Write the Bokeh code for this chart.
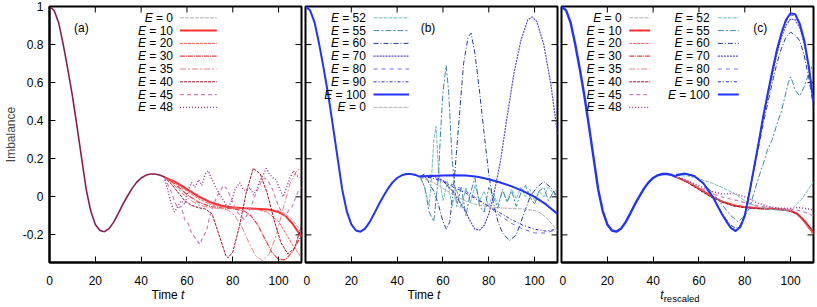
from bokeh.plotting import figure
from bokeh.layouts import row, column
from bokeh.models import Range1d, FixedTicker, PrintfTickFormatter, Label, Div, Spacer
from bokeh.embed import file_html
from bokeh.resources import INLINE

# ---------------- data ----------------
x_ticks = [0, 20, 40, 60, 80, 100]
y_ticks = [-0.2, 0, 0.2, 0.4, 0.6, 0.8, 1.0]

# common early-time part (identical for all E)
t_common = [0, 2, 4, 6, 8, 10, 12, 14, 16, 18, 20, 22, 24, 26, 28, 30, 32, 34, 36, 38, 40, 42, 44, 46, 48, 50]
v_common = [1.0, 0.98, 0.915, 0.80, 0.67, 0.53, 0.37, 0.205, 0.04, -0.075, -0.145, -0.177, -0.183, -0.167,
            -0.133, -0.088, -0.04, 0.003, 0.043, 0.076, 0.099, 0.113, 0.12, 0.12, 0.115, 0.105]

# panel (a) tails, time t
a_t_E0 = [50, 55, 60, 65, 70, 75, 80, 85, 90, 95, 100, 103, 106, 110]
a_v_E0 = [0.105, 0.08, 0.045, 0.008, -0.022, -0.042, -0.053, -0.058, -0.061, -0.064, -0.072, -0.088, -0.12, -0.18]
a_t_E10 = [50, 55, 60, 65, 70, 75, 80, 85, 90, 95, 100, 103, 106, 110]
a_v_E10 = [0.105, 0.077, 0.04, 0.002, -0.028, -0.047, -0.056, -0.06, -0.062, -0.066, -0.08, -0.1, -0.14, -0.21]
a_t_E20 = [50, 55, 60, 65, 70, 75, 80, 85, 90, 95, 100, 103, 106, 110]
a_v_E20 = [0.105, 0.072, 0.03, -0.01, -0.038, -0.052, -0.058, -0.061, -0.065, -0.08, -0.13, -0.19, -0.25, -0.32]
a_t_E30 = [50, 55, 60, 65, 70, 75, 80, 85, 88, 91, 94, 97, 100, 103, 106, 110]
a_v_E30 = [0.105, 0.065, 0.012, -0.028, -0.05, -0.058, -0.062, -0.075, -0.1, -0.15, -0.22, -0.29, -0.33, -0.33, -0.29, -0.2]
a_t_E35 = [50, 55, 60, 65, 70, 75, 78, 81, 84, 87, 90, 93, 96, 99, 102, 105, 108, 110]
a_v_E35 = [0.105, 0.055, -0.005, -0.043, -0.057, -0.062, -0.07, -0.1, -0.16, -0.24, -0.31, -0.335, -0.3, -0.2,
           -0.06, 0.07, 0.14, 0.15]
a_t_E40 = [50, 53, 56, 59, 62, 65, 68, 71, 74, 77, 78, 80, 83, 86, 89, 92, 95, 98, 101, 104, 107, 110]
a_v_E40 = [0.105, 0.07, 0.025, -0.02, -0.045, -0.057, -0.064, -0.09, -0.2, -0.31, -0.32, -0.29, -0.15, 0.03,
           0.15, 0.12, 0.02, -0.12, -0.24, -0.3, -0.27, -0.15]
a_t_E45 = [50, 51.5, 53, 54.5, 56, 57.5, 59, 60.5, 62, 64, 65.6, 67, 68.5, 70, 71.4, 73, 74.5, 76, 77.5, 79, 80.5,
           82, 83.5, 85, 86.5, 88, 89.5, 91, 92.5, 94, 95.5, 97, 98.5, 100, 101.5, 103, 104.5, 106, 107.5, 109, 110]
a_v_E45 = [0.105, 0.07, 0.03, -0.02, -0.06, -0.05, -0.12, -0.14, -0.19, -0.22, -0.25, -0.21, -0.18, -0.1, -0.05,
           0.0, 0.03, 0.06, 0.04, 0.0, -0.04, -0.08, -0.1, -0.12, -0.09, -0.05, 0.0, 0.04, 0.08, 0.1, 0.08, 0.05,
           0.0, -0.05, -0.08, -0.1, -0.07, -0.05, 0.0, 0.04, 0.05]
a_t_E48 = [50, 51.5, 53, 54.5, 56, 57.5, 59, 60.5, 62, 63.5, 65, 66.5, 68, 69.3, 70.5, 72, 73.5, 75, 76.5, 78,
           79.5, 81, 83, 84.5, 86, 87.5, 89, 90.5, 92, 93.5, 94.6, 96, 97.5, 99, 100.5, 102, 103.5, 105, 106.5,
           108, 110]
a_v_E48 = [0.105, 0.04, -0.03, -0.08, -0.05, -0.02, -0.04, 0.03, 0.075, 0.05, 0.09, 0.06, 0.12, 0.137, 0.1,
           0.066, 0.03, 0.0, -0.03, -0.06, -0.02, 0.04, 0.074, 0.04, 0.03, 0.05, 0.01, 0.04, 0.09, 0.12, 0.15,
           0.12, 0.1, 0.09, 0.04, 0.0, 0.05, 0.1, 0.137, 0.11, 0.1]

# panel (b) tails, time t
b_t_E52 = [50, 52, 54, 55, 56, 57, 58, 60, 62, 64, 66, 68, 70, 72, 74, 76, 78, 80, 82, 84, 86, 88, 90, 92, 94,
           96, 98, 100, 102, 104, 106, 108, 110]
b_v_E52 = [0.107, 0.05, -0.05, 0.1, 0.3, 0.37, 0.15, -0.02, 0.08, -0.05, 0.04, -0.06, 0.05, -0.03, 0.06, -0.02,
           0.03, -0.05, 0.02, -0.04, 0.03, -0.02, 0.04, -0.01, 0.05, 0.0, 0.04, -0.02, 0.03, 0.0, 0.05, 0.02, 0.04]
b_t_E55 = [50, 52, 54, 56, 58, 59, 60, 61.4, 62.5, 64, 66, 68, 70, 72, 74, 76, 78, 80, 82, 84, 86, 88, 90, 92,
           94, 96, 98, 100, 102, 104, 106, 108, 110]
b_v_E55 = [0.107, 0.05, -0.08, -0.13, 0.1, 0.35, 0.55, 0.69, 0.55, 0.2, -0.05, 0.05, -0.1, 0.02, 0.1, -0.05,
           -0.08, 0.05, 0.0, -0.06, 0.04, -0.03, 0.03, -0.05, 0.02, 0.06, 0.0, -0.04, 0.03, 0.05, -0.02, 0.02, 0.0]
b_t_E60 = [50, 52, 54, 56, 58, 60, 61.5, 63, 65, 67, 69, 71, 72.3, 74, 76, 78, 80, 82, 84, 86, 89, 92, 95, 98,
           101, 104, 107, 110]
b_v_E60 = [0.107, 0.12, 0.07, 0.03, -0.04, -0.13, -0.17, -0.13, 0.1, 0.4, 0.7, 0.84, 0.86, 0.75, 0.55, 0.33,
           0.12, -0.03, -0.13, -0.19, -0.23, -0.2, -0.1, 0.0, 0.05, 0.08, 0.05, 0.0]
b_t_E70 = [50, 55, 60, 65, 70, 72, 74, 76, 78, 80, 82, 85, 88, 91, 94, 97, 99, 101, 104, 107, 110]
b_v_E70 = [0.107, 0.115, 0.085, 0.02, -0.08, -0.13, -0.17, -0.175, -0.15, -0.09, 0.0, 0.18, 0.42, 0.65, 0.82,
           0.93, 0.945, 0.92, 0.8, 0.6, 0.33]
b_t_E80 = [50, 55, 60, 65, 70, 75, 80, 85, 90, 95, 100, 105, 110]
b_v_E80 = [0.107, 0.1, 0.085, 0.06, 0.03, -0.01, -0.05, -0.1, -0.14, -0.17, -0.19, -0.19, -0.17]
b_t_E90 = [50, 55, 60, 65, 70, 75, 80, 85, 90, 95, 100, 105, 110]
b_v_E90 = [0.107, 0.1, 0.08, 0.05, 0.02, -0.015, -0.05, -0.085, -0.12, -0.15, -0.17, -0.18, -0.17]
b_t_E100 = [50, 55, 60, 65, 70, 75, 80, 85, 90, 95, 100, 105, 110]
b_v_E100 = [0.107, 0.11, 0.112, 0.113, 0.112, 0.105, 0.092, 0.075, 0.055, 0.03, 0.0, -0.04, -0.09]

# panel (c) tails, rescaled time
c_t_red = [50, 55, 60, 65, 70, 75, 80, 85, 90, 95, 100, 103, 106, 110]
c_v_E0 = [0.105, 0.08, 0.045, 0.008, -0.022, -0.042, -0.053, -0.058, -0.061, -0.064, -0.072, -0.088, -0.12, -0.18]
c_v_E10 = [0.105, 0.079, 0.043, 0.006, -0.024, -0.044, -0.054, -0.059, -0.062, -0.065, -0.073, -0.09, -0.125, -0.19]
c_v_E20 = [0.105, 0.078, 0.042, 0.005, -0.025, -0.045, -0.055, -0.06, -0.063, -0.066, -0.074, -0.092, -0.13, -0.195]
c_v_E30 = [0.105, 0.077, 0.041, 0.004, -0.026, -0.046, -0.056, -0.061, -0.064, -0.066, -0.074, -0.093, -0.132, -0.2]
c_v_E35 = [0.105, 0.076, 0.04, 0.003, -0.027, -0.047, -0.057, -0.061, -0.064, -0.066, -0.075, -0.094, -0.135, -0.2]
c_v_E40 = [0.105, 0.075, 0.038, 0.001, -0.028, -0.047, -0.057, -0.061, -0.064, -0.066, -0.075, -0.09, -0.125, -0.18]
c_v_E45 = [0.105, 0.082, 0.05, 0.02, 0.0, -0.015, -0.03, -0.045, -0.055, -0.06, -0.065, -0.07, -0.08, -0.1]
c_v_E48 = [0.105, 0.085, 0.058, 0.03, 0.015, 0.018, 0.0, -0.03, -0.05, -0.06, -0.06, -0.055, -0.06, -0.07]
c_t_blue = [50, 54, 58, 62, 66, 70, 72, 74, 76, 78, 80, 82, 84, 86, 88, 90, 92, 94, 96, 98, 100, 102, 104, 106,
            108, 110]
c_v_E60 = [0.112, 0.12, 0.108, 0.07, 0.0, -0.085, -0.12, -0.15, -0.165, -0.15, -0.09, 0.02, 0.14, 0.26, 0.38,
           0.49, 0.6, 0.7, 0.78, 0.84, 0.865, 0.85, 0.82, 0.74, 0.62, 0.47]
c_v_E70 = [0.113, 0.121, 0.109, 0.07, 0.0, -0.088, -0.125, -0.16, -0.175, -0.155, -0.095, 0.02, 0.15, 0.28, 0.41,
           0.53, 0.64, 0.75, 0.84, 0.9, 0.935, 0.93, 0.89, 0.8, 0.67, 0.5]
c_v_E80 = [0.114, 0.122, 0.11, 0.07, 0.0, -0.09, -0.128, -0.163, -0.178, -0.158, -0.098, 0.02, 0.15, 0.28, 0.42,
           0.54, 0.66, 0.77, 0.86, 0.92, 0.955, 0.95, 0.9, 0.81, 0.68, 0.5]
c_v_E90 = [0.115, 0.122, 0.11, 0.07, 0.0, -0.09, -0.13, -0.165, -0.18, -0.16, -0.1, 0.02, 0.15, 0.28, 0.42,
           0.54, 0.66, 0.77, 0.86, 0.93, 0.96, 0.955, 0.905, 0.815, 0.68, 0.5]
c_v_E100 = [0.115, 0.122, 0.11, 0.07, 0.0, -0.09, -0.13, -0.165, -0.18, -0.16, -0.1, 0.02, 0.15, 0.28, 0.42,
            0.54, 0.66, 0.77, 0.86, 0.93, 0.965, 0.96, 0.91, 0.82, 0.68, 0.5]
c_t_E55 = [50, 54, 58, 62, 66, 70, 74, 77, 80, 82, 84, 86, 88, 90, 92, 94, 96, 98, 99, 100, 101, 102, 104, 106,
           108, 110]
c_v_E55 = [0.112, 0.12, 0.105, 0.07, 0.02, -0.04, -0.1, -0.13, -0.1, -0.06, 0.02, 0.1, 0.17, 0.25, 0.3, 0.38,
           0.45, 0.55, 0.6, 0.63, 0.6, 0.56, 0.53, 0.58, 0.65, 0.7]
c_t_E52 = [50, 55, 60, 65, 70, 75, 80, 85, 90, 95, 100, 105, 110]
c_v_E52 = [0.112, 0.11, 0.095, 0.075, 0.05, 0.02, -0.02, -0.05, -0.065, -0.07, -0.07, -0.01, 0.08]

# ---------------- styles ----------------
STY = {
    0: dict(color="#b0b0b0", width=1.0, dash="4 1"),
    10: dict(color="#ff3030", width=2.0, dash="solid"),
    20: dict(color="#ff5a5a", width=1.0, dash="3 1"),
    30: dict(color="#e84040", width=1.2, dash="5 1 1 1"),
    35: dict(color="#f08080", width=1.0, dash="6 2 2 2"),
    40: dict(color="#a0102a", width=1.0, dash="3 1"),
    45: dict(color="#d080b8", width=1.2, dash="4 3"),
    48: dict(color="#9a3090", width=1.4, dash="1 2"),
    52: dict(color="#78bcc4", width=1.0, dash="4 1"),
    55: dict(color="#3f88a8", width=1.0, dash="6 2 2 2"),
    60: dict(color="#253f8a", width=1.0, dash="5 2 1 2"),
    70: dict(color="#5848c0", width=1.2, dash="2 1"),
    80: dict(color="#6a6af5", width=1.0, dash="4 4"),
    90: dict(color="#2a2ad8", width=1.0, dash="3 2 1 2"),
    100: dict(color="#2233ff", width=2.0, dash="solid"),
}
COMMON = {"a": dict(color="#8a1c50", width=1.6), "b": dict(color="#2233ff", width=2.0),
          "c": dict(color="#2233ff", width=2.4)}

FONT = "Liberation Sans"
FS = "12px"
FW, FH = 252, 256
LB = 42          # left border of panel (a)
XR = (0, 110)
YR = (-0.345, 1.0)
SX = FW / 253.0
SY = FH / 256.0
TICK = 6


def dx(px):
    return XR[0] + px * (XR[1] - XR[0]) / FW


def dy(py):
    return YR[1] - py * (YR[1] - YR[0]) / FH


CW = {"=": 0.584, " ": 0.278}


def tw(s, size=12):
    return sum(CW.get(ch, 0.556) for ch in s) * size


def make_fig(first):
    p = figure(frame_width=FW, frame_height=FH, x_range=Range1d(*XR), y_range=Range1d(*YR),
               output_backend="svg", toolbar_location=None, min_border_top=6, min_border_bottom=26,
               min_border_left=LB if first else 2, min_border_right=2,
               y_axis_location="left" if first else None)
    p.xgrid.visible = False
    p.ygrid.visible = False
    p.outline_line_color = "black"
    p.outline_line_width = 2
    for ax in p.xaxis:
        ax.ticker = FixedTicker(ticks=x_ticks)
        ax.major_tick_in = TICK
        ax.major_tick_out = 0
        ax.minor_tick_line_color = None
        ax.axis_line_width = 2
        ax.major_label_text_font = FONT
        ax.major_label_text_font_size = FS
        ax.major_label_text_color = "black"
        ax.major_label_standoff = 13
    for ax in p.yaxis:
        ax.ticker = FixedTicker(ticks=y_ticks)
        ax.formatter = PrintfTickFormatter(format="%g")
        ax.major_tick_in = TICK
        ax.major_tick_out = 0
        ax.minor_tick_line_color = None
        ax.axis_line_width = 2
        ax.major_label_text_font = FONT
        ax.major_label_text_color = "black"
        ax.major_label_text_font_size = FS
        ax.major_label_standoff = 6
        ax.axis_label = "Imbalance"
        ax.axis_label_text_font = FONT
        ax.axis_label_text_font_size = FS
        ax.axis_label_text_font_style = "normal"
        ax.axis_label_standoff = 2
    # mirror (inward) ticks on the top and right, and on the left when there is no left axis
    lx = TICK * (XR[1] - XR[0]) / FW
    ly = TICK * (YR[1] - YR[0]) / FH
    p.segment(x0=x_ticks, y0=[YR[1]] * len(x_ticks), x1=x_ticks, y1=[YR[1] - ly] * len(x_ticks),
              line_color="black", line_width=1)
    p.segment(x0=[XR[1]] * len(y_ticks), y0=y_ticks, x1=[XR[1] - lx] * len(y_ticks), y1=y_ticks,
              line_color="black", line_width=1)
    if not first:
        p.segment(x0=[XR[0]] * len(y_ticks), y0=y_ticks, x1=[XR[0] + lx] * len(y_ticks), y1=y_ticks,
                  line_color="black", line_width=1)
    return p


def draw(p, E, t_tail, v_tail):
    s = STY[E]
    p.line(t_tail, v_tail, line_color=s["color"], line_width=s["width"], line_dash=s["dash"])


def draw_common(p, key):
    s = COMMON[key]
    p.line(t_common, v_common, line_color=s["color"], line_width=s["width"])


def legend(p, entries, right, s0, s1, top=11.3, step=12.8):
    for i, E in enumerate(entries):
        y = dy((top + i * step) * SY)
        rest = "= %d" % E
        xr = right * SX
        p.add_layout(Label(x=dx(xr), y=y, text=rest, text_align="right", text_baseline="middle",
                           text_font=FONT, text_font_size=FS, text_color="black"))
        p.add_layout(Label(x=dx(xr - tw(rest) - tw(" ")), y=y, text="E", text_align="right",
                           text_baseline="middle", text_font=FONT, text_font_size=FS,
                           text_font_style="italic", text_color="black"))
        s = STY[E]
        p.segment(x0=[dx(s0 * SX)], y0=[y], x1=[dx(s1 * SX)], y1=[y], line_color=s["color"],
                  line_width=s["width"], line_dash=s["dash"])


def panel_label(p, text, cx, cy):
    p.add_layout(Label(x=dx(cx * SX), y=dy(cy * SY), text=text, text_align="center", text_baseline="middle",
                       text_font=FONT, text_font_size=FS, text_color="black"))


# ---------------- panel (a) ----------------
pa = make_fig(True)
for E, tt, vv in [(0, a_t_E0, a_v_E0), (10, a_t_E10, a_v_E10), (20, a_t_E20, a_v_E20), (30, a_t_E30, a_v_E30),
                  (35, a_t_E35, a_v_E35), (40, a_t_E40, a_v_E40), (45, a_t_E45, a_v_E45), (48, a_t_E48, a_v_E48)]:
    draw(pa, E, tt, vv)
draw_common(pa, "a")
legend(pa, [0, 10, 20, 30, 35, 40, 45, 48], 124, 131, 168)
panel_label(pa, "(a)", 32, 21)

# ---------------- panel (b) ----------------
pb = make_fig(False)
for E, tt, vv in [(52, b_t_E52, b_v_E52), (55, b_t_E55, b_v_E55), (60, b_t_E60, b_v_E60), (70, b_t_E70, b_v_E70),
                  (80, b_t_E80, b_v_E80), (90, b_t_E90, b_v_E90), (0, a_t_E0, a_v_E0), (100, b_t_E100, b_v_E100)]:
    draw(pb, E, tt, vv)
draw_common(pb, "b")
legend(pb, [52, 55, 60, 70, 80, 90, 100, 0], 60.7, 68.3, 104)
panel_label(pb, "(b)", 123, 21)

# ---------------- panel (c) ----------------
pc = make_fig(False)
for E, vv in [(0, c_v_E0), (10, c_v_E10), (20, c_v_E20), (30, c_v_E30), (35, c_v_E35), (40, c_v_E40),
              (45, c_v_E45), (48, c_v_E48)]:
    draw(pc, E, c_t_red, vv)
draw(pc, 52, c_t_E52, c_v_E52)
draw(pc, 55, c_t_E55, c_v_E55)
for E, vv in [(60, c_v_E60), (70, c_v_E70), (80, c_v_E80), (90, c_v_E90), (100, c_v_E100)]:
    draw(pc, E, c_t_blue, vv)
draw_common(pc, "c")
legend(pc, [0, 10, 20, 30, 35, 40, 45, 48], 60.3, 68, 89)
legend(pc, [52, 55, 60, 70, 80, 90, 100], 148.7, 157, 178)
panel_label(pc, "(c)", 199.5, 21)

# ---------------- x-axis titles (rich text under each panel) ----------------
CSS = {"font-family": "'Liberation Sans', Arial, sans-serif", "font-size": "12px", "color": "black",
       "text-align": "center", "line-height": "14px", "white-space": "nowrap"}
xt_a = Div(text="Time <i>t</i>", width=FW + 4, height=15, margin=(0, 0, 0, 0), styles=CSS)
xt_b = Div(text="Time <i>t</i>", width=FW + 4, height=15, margin=(0, 0, 0, 0), styles=CSS)
xt_c = Div(text="<i>t</i><sub style='font-size:9.5px;vertical-align:-3px'>rescaled</sub>", width=FW + 4,
           height=15, margin=(0, 0, 0, 0), styles=CSS)
titles = row(Spacer(width=LB - 2, height=15, margin=(0, 0, 0, 0)), xt_a, xt_b, xt_c, spacing=0)

layout = column(row(pa, pb, pc, spacing=0), titles, spacing=0)
open("out.html", "w").write(file_html(layout, INLINE))
